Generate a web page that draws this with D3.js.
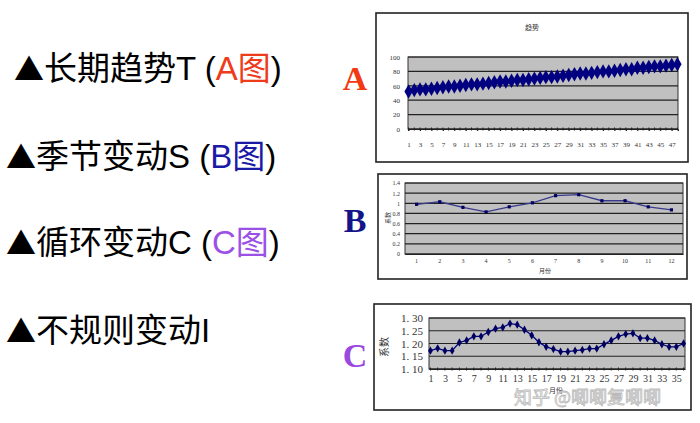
<!DOCTYPE html>
<html><head><meta charset="utf-8">
<script src="https://cdn.jsdelivr.net/npm/d3@7"></script>
<style>body{margin:0;background:#fff}svg{display:block}</style>
</head><body>
<svg id="c" width="700" height="423"></svg>
<script>
// ---- data ----
const trendValues = [52,54,55,55,56,57,58,59,59,60,61,62,62,63,64,65,66,66,67,68,68,69,70,71,72,72,73,74,75,76,77,77,78,79,80,80,81,82,83,83,85,85,86,87,87,88,89,90];
const trendTicks = [0,20,40,60,80,100];
const seasonMonths = [1,2,3,4,5,6,7,8,9,10,11,12];
const seasonValues = [0.98,1.03,0.92,0.83,0.93,1.01,1.15,1.17,1.05,1.05,0.93,0.87];
const seasonTicks = [0,0.2,0.4,0.6,0.8,1,1.2,1.4];
const cycleValues = [1.172,1.181,1.172,1.172,1.204,1.212,1.228,1.228,1.245,1.258,1.263,1.278,1.274,1.254,1.232,1.205,1.187,1.178,1.168,1.168,1.172,1.175,1.18,1.18,1.197,1.212,1.228,1.237,1.24,1.221,1.221,1.212,1.197,1.187,1.187,1.2];
const cycleTicks = [1.10,1.15,1.20,1.25,1.30];
const bulletLines = [
  {parts:[["长期趋势T (","#000"],["A图","#ee3b1c"],[")","#000"]]},
  {parts:[["季节变动S (","#000"],["B图","#1a1aa6"],[")","#000"]]},
  {parts:[["循环变动C (","#000"],["C图","#9b50e6"],[")","#000"]]},
  {parts:[["不规则变动I","#000"]]}
];
const panelLetters = [["A","#f23a12"],["B","#14148a"],["C","#9a48e0"]];

const svg = d3.select("#c");
const serif = "'Liberation Serif','DejaVu Serif',serif";
const cjk = "'Noto Sans CJK SC',sans-serif";

// ---- left bullet text ----
const lineX = [14,6,6,6], lineY = [80,168,254,342];
bulletLines.forEach((l,i)=>{
  const t = svg.append("text").attr("x",lineX[i]).attr("y",lineY[i])
    .attr("font-family","'Liberation Sans','Noto Sans CJK SC',sans-serif").attr("font-size",33);
  t.append("tspan").attr("font-family",cjk).attr("fill","#000").attr("font-size",30).text("▲");
  l.parts.forEach(p=>t.append("tspan").attr("fill",p[1]).text(p[0]));
});

// ---- panel letters ----
const letterY = [90,232,367];
panelLetters.forEach((p,i)=>{
  svg.append("text").attr("x",355).attr("y",letterY[i]).attr("text-anchor","middle")
    .attr("font-family",serif).attr("font-weight","bold").attr("font-size",34)
    .attr("fill",p[1]).text(p[0]);
});

function box(x0,y0,x1,y1){
  svg.append("rect").attr("x",x0).attr("y",y0).attr("width",x1-x0).attr("height",y1-y0)
    .attr("fill","#fff").attr("stroke","#222").attr("stroke-width",1.6);
}
function plotBg(x,y,g,ticks,top,bottom){
  g.append("rect").attr("x",x.range()[0]).attr("y",top).attr("width",x.range()[1]-x.range()[0])
    .attr("height",bottom-top).attr("fill","#c0c0c0").attr("stroke","#333").attr("stroke-width",1);
  ticks.forEach(t=>{
    g.append("line").attr("x1",x.range()[0]).attr("x2",x.range()[1]).attr("y1",y(t)).attr("y2",y(t))
      .attr("stroke","#222").attr("stroke-width",1.2);
  });
}
function diamond(s){return d3.symbol().type(d3.symbolDiamond).size(s)();}

// ---- Chart A ----
box(376,13,688,162);
{
  const g = svg.append("g");
  const L=408,R=678,T=57,B=129;
  const x = d3.scalePoint().domain(d3.range(1,trendValues.length+1)).range([L,R]).padding(0.1);
  const xr = d3.scaleLinear().range([L,R]);
  const y = d3.scaleLinear().domain([0,100]).range([B,T]);
  plotBg(xr,y,g,trendTicks,T,B);
  g.append("text").attr("x",532).attr("y",30).attr("text-anchor","middle").attr("font-family",cjk)
    .attr("font-size",7).attr("fill","#333").text("趋势");
  const ya = g.append("g").attr("transform",`translate(${L},0)`)
    .call(d3.axisLeft(y).tickValues(trendTicks).tickSize(0).tickPadding(8).tickFormat(d3.format("d")));
  ya.select(".domain").remove();
  ya.selectAll("text").attr("font-family",serif).attr("font-size",7).attr("fill","#333");
  const xa = g.append("g").attr("transform",`translate(0,${B})`)
    .call(d3.axisBottom(x).tickValues(d3.range(1,trendValues.length+1,2)).tickSize(2).tickPadding(11));
  xa.select(".domain").attr("stroke","#222");
  xa.selectAll("line").attr("stroke","#222");
  xa.selectAll("text").attr("font-family",serif).attr("font-size",7).attr("fill","#333");
  g.append("g").selectAll("line").data(d3.range(1,trendValues.length+1)).join("line")
    .attr("x1",d=>x(d)).attr("x2",d=>x(d)).attr("y1",B-1.5).attr("y2",B+1.5).attr("stroke","#222");
  g.append("path").datum(trendValues).attr("fill","none").attr("stroke","#000080").attr("stroke-width",3)
    .attr("d",d3.line().x((d,i)=>x(i+1)).y(d=>y(d)));
  g.selectAll(".m").data(trendValues).join("path").attr("transform",(d,i)=>`translate(${x(i+1)},${y(d)})`)
    .attr("d",diamond(60)).attr("fill","#000080");
}

// ---- Chart B ----
box(378,174,687,279);
{
  const g = svg.append("g");
  const L=405,R=683,T=183,B=254;
  const x = d3.scaleBand().domain(seasonMonths).range([L,R]);
  const xr = d3.scaleLinear().range([L,R]);
  const y = d3.scaleLinear().domain([0,1.4]).range([B,T]);
  plotBg(xr,y,g,seasonTicks,T,B);
  const ya = g.append("g").attr("transform",`translate(${L},0)`)
    .call(d3.axisLeft(y).tickValues(seasonTicks).tickSize(0).tickPadding(5).tickFormat(d=>String(+d.toFixed(1))));
  ya.select(".domain").remove();
  ya.selectAll("text").attr("font-family",serif).attr("font-size",6).attr("fill","#333");
  const xa = g.append("g").attr("transform",`translate(0,${B})`)
    .call(d3.axisBottom(x).tickSize(0).tickPadding(5));
  xa.select(".domain").attr("stroke","#222");
  xa.selectAll("text").attr("font-family",serif).attr("font-size",6).attr("fill","#333");
  g.append("text").attr("x",545).attr("y",273).attr("text-anchor","middle").attr("font-family",cjk)
    .attr("font-size",6).attr("fill","#333").text("月份");
  g.append("text").attr("transform","translate(390,218) rotate(-90)").attr("text-anchor","middle")
    .attr("font-family",cjk).attr("font-size",6).attr("fill","#333").text("系数");
  const cx = d=>x(d)+x.bandwidth()/2;
  g.append("path").datum(seasonValues).attr("fill","none").attr("stroke","#3a3a8c").attr("stroke-width",1.3)
    .attr("d",d3.line().x((d,i)=>cx(seasonMonths[i])).y(d=>y(d)));
  g.selectAll(".m").data(seasonValues).join("rect")
    .attr("x",(d,i)=>cx(seasonMonths[i])-1.6).attr("y",d=>y(d)-1.6).attr("width",3.2).attr("height",3.2)
    .attr("fill","#000060");
}

// ---- Chart C ----
box(374,304,691,410);
{
  const g = svg.append("g");
  const L=429,R=685,T=318,B=369;
  const x = d3.scalePoint().domain(d3.range(1,cycleValues.length+1)).range([L,R]).padding(0.2);
  const xr = d3.scaleLinear().range([L,R]);
  const y = d3.scaleLinear().domain([1.10,1.30]).range([B,T]);
  plotBg(xr,y,g,cycleTicks,T,B);
  const ya = g.append("g").attr("transform",`translate(${L},0)`)
    .call(d3.axisLeft(y).tickValues(cycleTicks).tickSize(0).tickPadding(6).tickFormat(d=>d3.format(".2f")(d).replace(".",". ")));
  ya.select(".domain").remove();
  ya.selectAll("text").attr("font-family",serif).attr("font-size",11).attr("fill","#333");
  const xa = g.append("g").attr("transform",`translate(0,${B})`)
    .call(d3.axisBottom(x).tickValues(d3.range(1,cycleValues.length+1,2)).tickSize(0).tickPadding(6));
  xa.select(".domain").attr("stroke","#222");
  xa.selectAll("text").attr("font-family",serif).attr("font-size",10).attr("fill","#333");
  g.append("g").selectAll("line").data(d3.range(1,cycleValues.length+1)).join("line")
    .attr("x1",d=>x(d)).attr("x2",d=>x(d)).attr("y1",B-1.5).attr("y2",B+1.5).attr("stroke","#222");
  g.append("text").attr("transform","translate(388,347) rotate(-90)").attr("text-anchor","middle")
    .attr("font-family",cjk).attr("font-size",10).attr("fill","#333").text("系数");
  g.append("path").datum(cycleValues).attr("fill","none").attr("stroke","#000080").attr("stroke-width",1.3)
    .attr("d",d3.line().x((d,i)=>x(i+1)).y(d=>y(d)));
  g.selectAll(".m").data(cycleValues).join("path").attr("transform",(d,i)=>`translate(${x(i+1)},${y(d)})`)
    .attr("d",diamond(20)).attr("fill","#000060");
  g.append("text").attr("x",556).attr("y",393).attr("text-anchor","middle").attr("font-family",cjk)
    .attr("font-size",7).attr("fill","#333").text("月份");
  // watermark
  g.append("text").attr("x",514).attr("y",404).attr("font-family",cjk).attr("font-size",18)
    .attr("fill","#fff").attr("fill-opacity",0.6).attr("stroke","#bbb").attr("stroke-width",0.8)
    .text("知乎 @唧唧复唧唧");
}
</script>
</body></html>
